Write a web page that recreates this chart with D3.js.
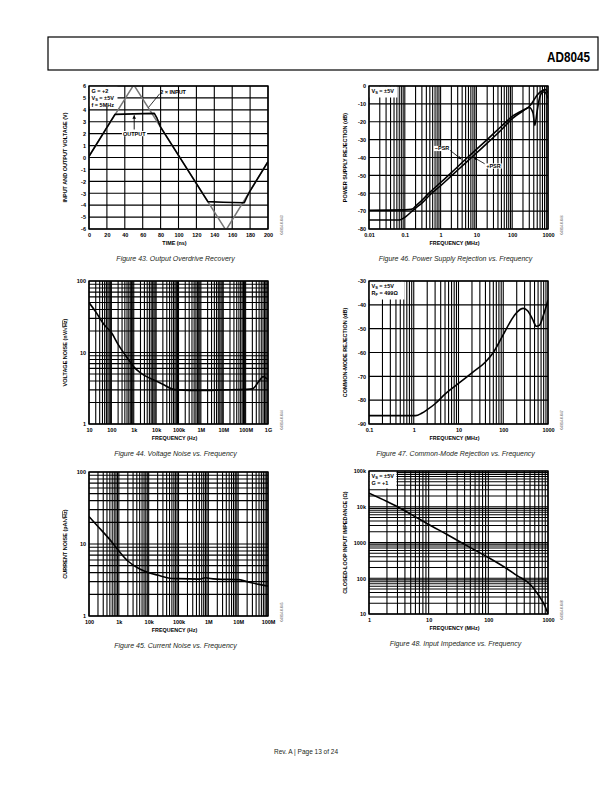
<!DOCTYPE html>
<html><head><meta charset="utf-8">
<script src="https://cdn.jsdelivr.net/npm/d3@7"></script>
<style>
body{margin:0;background:#fff}
svg text{font-family:"Liberation Sans",Arial,sans-serif}
</style></head><body>
<svg id="page" width="612" height="792"></svg>
<script>
// ================= DATA =================
// Figure 43 – Output Overdrive Recovery
const fig43XTicks = [0,20,40,60,80,100,120,140,160,180,200];
const fig43YTicks = [-6,-5,-4,-3,-2,-1,0,1,2,3,4,5,6];
const fig43InputTime = [0,50,153,200];
const fig43InputV = [0.1,6.1,-6.1,-0.35];
const fig43OutputTime = [0,29,50,73,76,80,132.8,150,173.5,176.5,180,200];
const fig43OutputV = [0.1,3.62,3.66,3.7,3.3,2.55,-3.7,-3.75,-3.8,-3.3,-2.8,-0.35];

// Figure 46 – PSR vs Frequency
const fig46XTicks = [0.01,0.1,1,10,100,1000];
const fig46XLabels = ["0.01","0.1","1","10","100","1000"];
const fig46YTicks = [-80,-70,-60,-50,-40,-30,-20,-10,0];
const fig46MinusFreq = [0.01,0.1,0.15,0.17,0.2,0.3,0.5,1,2,5,10,20,50,100,200,300,400,500,700,850,1000];
const fig46MinusPSR = [-69.5,-69.3,-69,-68.6,-67.2,-64,-59.5,-54,-48.5,-41,-35.5,-30,-22.5,-17,-13.5,-11.5,-8,-5,-2.5,-2,-4];
const fig46PlusFreq = [0.01,0.07,0.1,0.15,0.2,0.3,0.5,1,2,5,10,20,50,100,200,300,380,430,490,560,700,800,1000];
const fig46PlusPSR = [-75,-75,-73.5,-70.5,-68.3,-65.5,-61,-55.8,-50.3,-43,-37.5,-32,-24.5,-18.3,-14,-12,-15,-22,-15,-8,-3.5,-3.2,-7];

// Figure 44 – Voltage Noise vs Frequency
const fig44XTicks = [10,100,1e3,1e4,1e5,1e6,1e7,1e8,1e9];
const fig44XLabels = ["10","100","1k","10k","100k","1M","10M","100M","1G"];
const fig44YTicks = [1,10,100];
const fig44YLabels = ["1","10","100"];
const fig44Freq = [10,20,50,100,200,500,1e3,2e3,5e3,1e4,2e4,5e4,1e5,1e6,1e7,1e8,2e8,4e8,6e8,1e9];
const fig44Noise = [50,37,24,19,13,8.5,6.3,5.2,4.4,4.0,3.6,3.1,3.0,2.95,3.0,3.05,3.1,4.0,4.6,4.2];

// Figure 47 – CMR vs Frequency
const fig47XTicks = [0.1,1,10,100,1000];
const fig47XLabels = ["0.1","1","10","100","1000"];
const fig47YTicks = [-90,-80,-70,-60,-50,-40,-30];
const fig47Freq = [0.1,0.5,1.1,1.5,2,3,5,10,20,40,60,100,150,200,280,350,450,550,650,800,1000];
const fig47CMR = [-86.5,-86.5,-86.5,-85.5,-84,-81.5,-77.5,-73,-68.5,-64,-60,-52.5,-46.5,-43.2,-41.5,-42.5,-46,-49,-48.5,-44,-38];

// Figure 45 – Current Noise vs Frequency
const fig45XTicks = [100,1e3,1e4,1e5,1e6,1e7,1e8];
const fig45XLabels = ["100","1k","10k","100k","1M","10M","100M"];
const fig45YTicks = [1,10,100];
const fig45YLabels = ["1","10","100"];
const fig45Freq = [100,200,500,1e3,2e3,5e3,1e4,2e4,5e4,1e5,5e5,8e5,1e6,2e6,1e7,2e7,5e7,1e8];
const fig45Noise = [24,17.5,11.5,8,5.8,4.5,4.0,3.7,3.35,3.3,3.25,3.4,3.35,3.25,3.2,3.0,2.75,2.6];

// Figure 48 – Input Impedance vs Frequency
const fig48XTicks = [1,10,100,1000];
const fig48XLabels = ["1","10","100","1000"];
const fig48YTicks = [10,100,1000,1e4,1e5];
const fig48YLabels = ["10","100","1000","10k","100k"];
const fig48Freq = [1,2,3,5,10,20,50,100,200,300,500,700,900,1000];
const fig48Imp = [24000,14000,10000,6200,3200,1700,720,380,190,120,68,33,16,10];

// ================= DRAWING =================
const svg = d3.select('#page');
const FONT = '"Liberation Sans",Arial,sans-serif';

function logGrid(lo, hi){
  const out=[];
  for(let e=Math.floor(Math.log10(lo)+1e-9); e<=Math.ceil(Math.log10(hi)-1e-9); e++){
    for(let m=1;m<=9;m++){const v=m*Math.pow(10,e); if(v>=lo*0.999 && v<=hi*1.001) out.push(v);}
  }
  return out;
}
function zip(a,b){return a.map((v,i)=>[v,b[i]]);}

const defs = svg.append('defs');
defs.append('marker').attr('id','arr').attr('viewBox','0 0 10 10').attr('refX',10).attr('refY',5)
  .attr('markerWidth',4).attr('markerHeight',4).attr('orient','auto-start-reverse')
  .append('path').attr('d','M0,0 L10,5 L0,10 z').attr('fill','#000');

let clipN = 0;
function addRich(sel, parts){
  parts.forEach(p=>{
    const t = sel.append('tspan').text(p.t);
    if(p.sub){ t.attr('dy',1.4).attr('font-size',4); }
    if(p.unsub){ t.attr('dy',-1.4); }
    if(p.over){ t.attr('text-decoration','overline'); }
  });
}
function labelWithBg(g, x, y, txt, anchor){
  const t=g.append('text').attr('x',x).attr('y',y).attr('dy','0.35em').attr('text-anchor',anchor||'middle')
    .attr('font-size',5.5).attr('font-weight','bold').attr('fill','#000').text(txt);
  const bb=t.node().getBBox();
  g.insert('rect',()=>t.node()).attr('x',bb.x-1).attr('y',bb.y+0.4).attr('width',bb.width+2).attr('height',bb.height-0.8).attr('fill','#fff');
  return t;
}

function drawChart(c){
  const [x0,y0,x1,y1] = c.box;
  const g = svg.append('g');
  const xs = (c.xLog?d3.scaleLog():d3.scaleLinear()).domain(c.xDomain).range([x0,x1]);
  const ys = (c.yLog?d3.scaleLog():d3.scaleLinear()).domain(c.yDomain).range([y1,y0]);
  g.append('rect').attr('x',x0).attr('y',y0).attr('width',x1-x0).attr('height',y1-y0).attr('fill','#fff');
  g.append('g').selectAll('line').data(c.xGrid).join('line')
    .attr('x1',d=>xs(d)).attr('x2',d=>xs(d)).attr('y1',y0).attr('y2',y1)
    .attr('stroke','#000').attr('stroke-width',1.1);
  g.append('g').selectAll('line').data(c.yGrid).join('line')
    .attr('y1',d=>ys(d)).attr('y2',d=>ys(d)).attr('x1',x0).attr('x2',x1)
    .attr('stroke','#000').attr('stroke-width',1.1);
  if(c.note){
    g.append('rect').attr('x',x0+0.5).attr('y',y0+0.5).attr('width',c.note.w).attr('height',c.note.h).attr('fill','#fff');
    c.note.lines.forEach((ln,i)=>{
      const t = g.append('text').attr('x',x0+2.5).attr('y',y0+6.5+i*7.2)
        .attr('font-size',5.5).attr('font-weight','bold').attr('fill','#000');
      addRich(t, ln);
    });
  }
  const cid = 'clip'+(clipN++);
  defs.append('clipPath').attr('id',cid).append('rect').attr('x',x0).attr('y',y0).attr('width',x1-x0).attr('height',y1-y0);
  const line = d3.line().x(d=>xs(d[0])).y(d=>ys(d[1])).curve(c.curve||d3.curveMonotoneX);
  const sg = g.append('g').attr('clip-path',`url(#${cid})`);
  c.series.forEach(s=>{
    sg.append('path').attr('d',line(s.data)).attr('fill','none')
      .attr('stroke',s.color||'#000').attr('stroke-width',s.w||1.6).attr('stroke-linejoin','round');
  });
  g.append('rect').attr('x',x0).attr('y',y0).attr('width',x1-x0).attr('height',y1-y0)
    .attr('fill','none').attr('stroke','#000').attr('stroke-width',1.4);
  const ax = g.append('g').attr('transform',`translate(0,${y1})`)
    .call(d3.axisBottom(xs).tickValues(c.xTicks).tickFormat((d,i)=>c.xLabels?c.xLabels[i]:String(d)).tickSize(0).tickPadding(4));
  ax.select('.domain').remove();
  ax.selectAll('text').attr('font-size',5.5).attr('font-weight','bold').attr('font-family',FONT).attr('fill','#000');
  const ay = g.append('g').attr('transform',`translate(${x0},0)`)
    .call(d3.axisLeft(ys).tickValues(c.yTicks).tickFormat((d,i)=>c.yLabels?c.yLabels[i]:String(d)).tickSize(0).tickPadding(3));
  ay.select('.domain').remove();
  ay.selectAll('text').attr('font-size',5.5).attr('font-weight','bold').attr('font-family',FONT).attr('fill','#000');
  const cx = (x0+x1)/2;
  g.append('text').attr('x',cx-4).attr('y',y1+16).attr('text-anchor','middle')
    .attr('font-size',5.4).attr('font-weight','bold').text(c.xTitle);
  const yt = g.append('text').attr('transform',`translate(${x0-22},${(y0+y1)/2}) rotate(-90)`)
    .attr('text-anchor','middle').attr('font-size',5.5).attr('font-weight','bold');
  addRich(yt, c.yTitle);
  g.append('text').attr('x',cx-3).attr('y',y1+32).attr('text-anchor','middle')
    .attr('font-size',7).attr('font-style','italic').attr('fill','#231f20').text(c.caption);
  g.append('text').attr('transform',`translate(${x1+15},${y1-4}) rotate(-90)`)
    .attr('text-anchor','middle').attr('font-size',3.4).attr('fill','#555').text(c.sideId);
  return {g,xs,ys};
}

// Header
svg.append('rect').attr('x',48).attr('y',37).attr('width',550).attr('height',33)
  .attr('fill','none').attr('stroke','#000').attr('stroke-width',1.2);
svg.append('text').attr('x',590).attr('y',62).attr('text-anchor','end')
  .attr('font-family','"Liberation Sans Narrow","Liberation Sans",Arial').attr('font-weight','bold')
  .attr('font-size',15).attr('textLength',43).attr('lengthAdjust','spacingAndGlyphs').text('AD8045');
// Footer
svg.append('text').attr('x',306).attr('y',754).attr('text-anchor','middle')
  .attr('font-size',6.5).attr('fill','#231f20').text('Rev. A | Page 13 of 24');

// ---- Figure 43 ----
const c1 = drawChart({
  box:[89,86,268,229], xDomain:[0,200], yDomain:[-6,6],
  xGrid:fig43XTicks, yGrid:fig43YTicks, xTicks:fig43XTicks, yTicks:fig43YTicks,
  curve:d3.curveLinear,
  series:[{data:zip(fig43InputTime,fig43InputV),color:'#777',w:1.5},
          {data:zip(fig43OutputTime,fig43OutputV),color:'#000',w:1.6}],
  note:{w:28,h:20,lines:[[{t:'G = +2'}],[{t:'V'},{t:'S',sub:true},{t:' = ±5V',unsub:true}],[{t:'f = 5MHz'}]]},
  xTitle:'TIME (ns)', yTitle:[{t:'INPUT AND OUTPUT VOLTAGE (V)'}],
  caption:'Figure 43. Output Overdrive Recovery', sideId:'04914-0-043'
});
{
  const {g,xs,ys}=c1;
  g.append('text').attr('x',xs(79.5)).attr('y',ys(5.3)).attr('font-size',5.5).attr('font-weight','bold').attr('fill','#000').text('2 × INPUT');
  g.append('line').attr('x1',xs(79)).attr('y1',ys(5.35)).attr('x2',xs(66.5)).attr('y2',ys(4.2))
    .attr('stroke','#000').attr('stroke-width',0.8);
  labelWithBg(g, xs(50.5), ys(2), 'OUTPUT');
  g.append('line').attr('x1',xs(50.5)).attr('y1',ys(2.35)).attr('x2',xs(50.5)).attr('y2',ys(3.55))
    .attr('stroke','#000').attr('stroke-width',0.9).attr('marker-end','url(#arr)');
}

// ---- Figure 46 ----
const c2 = drawChart({
  box:[369,86,548,229], xLog:true, xDomain:[0.01,1000], yDomain:[-80,0],
  xGrid:logGrid(0.01,1000), yGrid:fig46YTicks, xTicks:fig46XTicks, xLabels:fig46XLabels, yTicks:fig46YTicks,
  series:[{data:zip(fig46MinusFreq,fig46MinusPSR)},{data:zip(fig46PlusFreq,fig46PlusPSR)}],
  note:{w:28,h:11,lines:[[{t:'V'},{t:'S',sub:true},{t:' = ±5V',unsub:true}]]},
  xTitle:'FREQUENCY (MHz)', yTitle:[{t:'POWER SUPPLY REJECTION (dB)'}],
  caption:'Figure 46. Power Supply Rejection vs. Frequency', sideId:'04914-0-046'
});
{
  const {g,xs,ys}=c2;
  labelWithBg(g, xs(1.1), ys(-35), '−PSR');
  labelWithBg(g, xs(30), ys(-44.8), '+PSR');
  g.append('line').attr('x1',xs(1.85)).attr('y1',ys(-36)).attr('x2',xs(3.8)).attr('y2',ys(-41))
    .attr('stroke','#000').attr('stroke-width',0.8).attr('marker-end','url(#arr)');
  g.append('line').attr('x1',xs(17)).attr('y1',ys(-43.5)).attr('x2',xs(8.5)).attr('y2',ys(-40))
    .attr('stroke','#000').attr('stroke-width',0.8).attr('marker-end','url(#arr)');
}

// ---- Figure 44 ----
drawChart({
  box:[89,281,268,424], xLog:true, yLog:true, xDomain:[10,1e9], yDomain:[1,100],
  xGrid:logGrid(10,1e9), yGrid:logGrid(1,100), xTicks:fig44XTicks, xLabels:fig44XLabels, yTicks:fig44YTicks, yLabels:fig44YLabels,
  series:[{data:zip(fig44Freq,fig44Noise)}],
  xTitle:'FREQUENCY (Hz)', yTitle:[{t:'VOLTAGE NOISE (nV/√'},{t:'Hz',over:true},{t:')'}],
  caption:'Figure 44. Voltage Noise vs. Frequency', sideId:'04914-0-044'
});

// ---- Figure 47 ----
drawChart({
  box:[369,281,548,424], xLog:true, xDomain:[0.1,1000], yDomain:[-90,-30],
  xGrid:logGrid(0.1,1000), yGrid:fig47YTicks, xTicks:fig47XTicks, xLabels:fig47XLabels, yTicks:fig47YTicks,
  series:[{data:zip(fig47Freq,fig47CMR)}],
  note:{w:35,h:18,lines:[[{t:'V'},{t:'S',sub:true},{t:' = ±5V',unsub:true}],[{t:'R'},{t:'F',sub:true},{t:' = 499Ω',unsub:true}]]},
  xTitle:'FREQUENCY (MHz)', yTitle:[{t:'COMMON-MODE REJECTION (dB)'}],
  caption:'Figure 47. Common-Mode Rejection vs. Frequency', sideId:'04914-0-047'
});

// ---- Figure 45 ----
drawChart({
  box:[89,472,268,616], xLog:true, yLog:true, xDomain:[100,1e8], yDomain:[1,100],
  xGrid:logGrid(100,1e8), yGrid:logGrid(1,100), xTicks:fig45XTicks, xLabels:fig45XLabels, yTicks:fig45YTicks, yLabels:fig45YLabels,
  series:[{data:zip(fig45Freq,fig45Noise)}],
  xTitle:'FREQUENCY (Hz)', yTitle:[{t:'CURRENT NOISE (pA/√'},{t:'Hz',over:true},{t:')'}],
  caption:'Figure 45. Current Noise vs. Frequency', sideId:'04914-0-045'
});

// ---- Figure 48 ----
drawChart({
  box:[369,471,548,614], xLog:true, yLog:true, xDomain:[1,1000], yDomain:[10,1e5],
  xGrid:logGrid(1,1000), yGrid:logGrid(10,1e5), xTicks:fig48XTicks, xLabels:fig48XLabels, yTicks:fig48YTicks, yLabels:fig48YLabels,
  series:[{data:zip(fig48Freq,fig48Imp)}],
  note:{w:27,h:17,lines:[[{t:'V'},{t:'S',sub:true},{t:' = ±5V',unsub:true}],[{t:'G = +1'}]]},
  xTitle:'FREQUENCY (MHz)', yTitle:[{t:'CLOSED-LOOP INPUT IMPEDANCE (Ω)'}],
  caption:'Figure 48. Input Impedance vs. Frequency', sideId:'04914-0-048'
});
</script>
</body></html>
